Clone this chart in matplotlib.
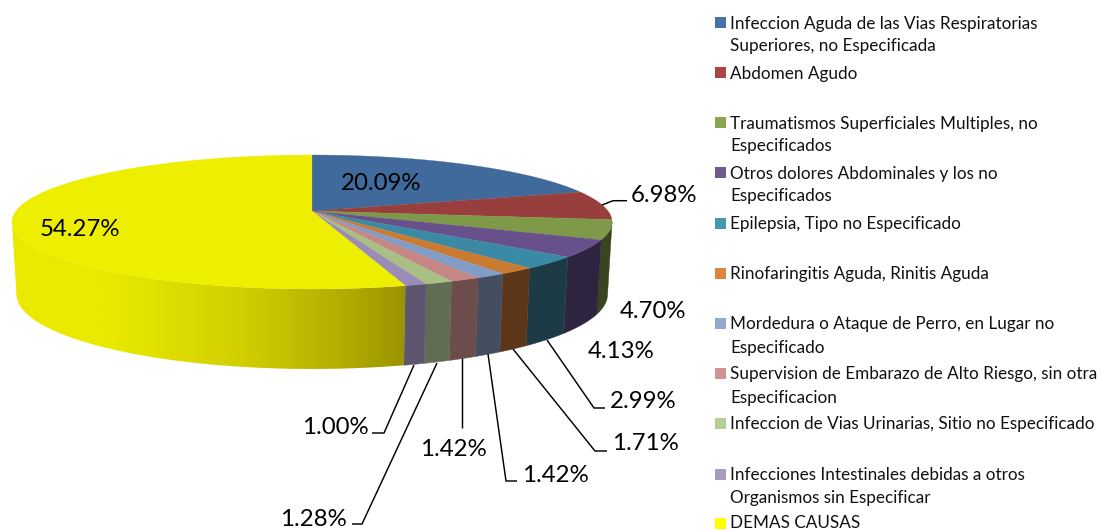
import numpy as np
import matplotlib
matplotlib.use("Agg")
import matplotlib.pyplot as plt
from matplotlib.colors import to_rgb
from matplotlib.patches import Rectangle, Polygon

plt.rcParams['font.family'] = ['Lato', 'DejaVu Sans']

categories = [
    "Infeccion Aguda de las Vias Respiratorias\nSuperiores, no Especificada",
    "Abdomen Agudo",
    "Traumatismos Superficiales Multiples, no\nEspecificados",
    "Otros dolores Abdominales y los no\nEspecificados",
    "Epilepsia, Tipo no Especificado",
    "Rinofaringitis Aguda, Rinitis Aguda",
    "Mordedura o Ataque de Perro, en Lugar no\nEspecificado",
    "Supervision de Embarazo de Alto Riesgo, sin otra\nEspecificacion",
    "Infeccion de Vias Urinarias, Sitio no Especificado",
    "Infecciones Intestinales debidas a otros\nOrganismos sin Especificar",
    "DEMAS CAUSAS",
]
values = [20.09, 6.98, 4.70, 4.13, 2.99, 1.71, 1.42, 1.42, 1.28, 1.00, 54.27]

legend_colors = ['#4672A8', '#AA4643', '#89A54E', '#71588F', '#4198AF', '#DB843D',
                 '#93A9CF', '#D19392', '#B9CD96', '#A99BBD', '#FFFF00']
top_colors = ['#3F6A9B', '#983F3E', '#7E9A48', '#68508A', '#3A8AA5', '#CB7A32',
              '#819DC6', '#C58685', '#A9BF84', '#9A8CB6', '#EEEE00']
side_colors = ['#4A5A8A', '#6A3030', '#3A4420', '#2E2440', '#1D3B46', '#5B3618',
               '#434F60', '#6D4C4C', '#616D52', '#5E5670', None]
yellow_x = [0, 100, 150, 250, 350, 405]
yellow_c = ['#EAEA00', '#EAEA00', '#E2E200', '#D0CC00', '#B0AA00', '#9A9300']

# Layout of the projected pie, in pixels
CX, CY = 312.0, 211.0
R, A, K = 296.0, 65.2, 0.164
BOT_X, BOT_D, BOT_A = 0.985, 71.0, 72.7

legend_first_y = [22, 72, 122, 172, 223, 273, 323, 373, 423, 474, 521.5]
legend_line = 23
label_pos = {
    0: (381.5, 181), 1: (664.5, 194), 2: (652.5, 309), 3: (621, 349), 4: (643, 400),
    5: (645.5, 442), 6: (555, 473), 7: (453, 448), 8: (313, 517), 9: (335, 425),
    10: (79.5, 228),
}
leaders = {
    1: [(602, 205), (613, 200.7), (627, 200.7)],
    4: [(547, 340), (594, 408), (605, 408)],
    5: [(513, 349), (595, 451), (607, 451)],
    6: [(488, 354), (506, 481), (517, 481)],
    7: [(462, 358), (462, 428)],
    8: [(437, 363), (362, 524), (352, 524)],
    9: [(414, 365), (384, 433), (372, 433)],
}

def top_pt(t):
    u, v = np.sin(t), np.cos(t)
    d = 1 + K * v
    return CX + R * u / d, CY - A * v / d

def bot_pt(t):
    u, v = np.sin(t), np.cos(t)
    d = 1 + K * v
    return CX + BOT_X * R * u / d, CY + BOT_D - BOT_A * v / d

fig = plt.figure(figsize=(11.01, 5.30), dpi=100, facecolor='white')
ax = fig.add_axes([0, 0, 1, 1])
ax.set_xlim(0, 1101)
ax.set_ylim(530, 0)
ax.axis('off')

vals = np.array(values)
edges = np.concatenate([[0], np.cumsum(vals) / vals.sum() * 2 * np.pi])
t_right = np.arccos(-K)
t_left = 2 * np.pi - t_right
yc = np.array([to_rgb(c) for c in yellow_c])

# walls
for i in range(len(vals)):
    a, b = max(edges[i], t_right), min(edges[i + 1], t_left)
    if b <= a:
        continue
    tt = np.linspace(a, b, max(4, int((b - a) * 120)))
    xt, yt = top_pt(tt)
    xb, yb = bot_pt(tt[::-1])
    pts = np.c_[np.r_[xt, xb], np.r_[yt, yb]]
    if side_colors[i] is None:
        x0, x1 = pts[:, 0].min(), pts[:, 0].max()
        grad = np.linspace(x0, x1, 512)
        rgb = np.stack([np.interp(grad, yellow_x, yc[:, k]) for k in range(3)], axis=1)[None, :, :]
        clip = Polygon(pts, closed=True, transform=ax.transData, facecolor='none', edgecolor='none')
        ax.add_patch(clip)
        y0, y1 = pts[:, 1].min(), pts[:, 1].max()
        im = ax.imshow(rgb, extent=(x0, x1, y1, y0), aspect='auto', zorder=2, interpolation='bilinear')
        im.set_clip_path(clip)
    else:
        ax.fill(pts[:, 0], pts[:, 1], facecolor=side_colors[i], edgecolor=side_colors[i], lw=0.3, zorder=2)
ax.set_xlim(0, 1101)
ax.set_ylim(530, 0)

# top surface
for i in range(len(vals)):
    tt = np.linspace(edges[i], edges[i + 1], max(3, int((edges[i + 1] - edges[i]) * 120)))
    x, y = top_pt(tt)
    ax.fill(np.r_[CX, x], np.r_[CY, y], facecolor=top_colors[i], edgecolor=top_colors[i],
            lw=0.2, zorder=3)

# leader lines
for i, pts in leaders.items():
    xs, ys = zip(*pts)
    ax.plot(xs, ys, color='black', lw=1.05, zorder=4, solid_capstyle='butt', solid_joinstyle='miter')

# data labels
for i, v in enumerate(values):
    x, y = label_pos[i]
    ax.text(x, y, f"{v:.2f}%", ha='center', va='center_baseline', fontsize=17.3, color='#000000', zorder=5)

# legend
for i, lab in enumerate(categories):
    y0 = legend_first_y[i]
    sy = 523 if i == len(categories) - 1 else y0
    ax.add_patch(Rectangle((715, sy - 5.5), 11, 11, facecolor=legend_colors[i], edgecolor='none', zorder=5))
    for j, line in enumerate(lab.split("\n")):
        ax.text(730, y0 + j * legend_line, line, ha='left', va='center_baseline',
                fontsize=12.3, color='#111111', zorder=5)

fig.savefig('out.png', dpi=100, facecolor='white')
